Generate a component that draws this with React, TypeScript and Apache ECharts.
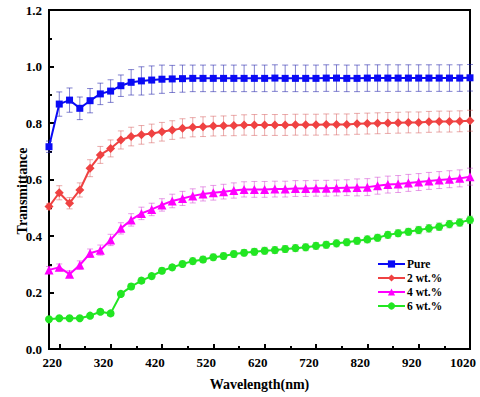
import React, { useEffect, useRef } from 'react';
import * as echarts from 'echarts';

const wavelengths = [
  200, 220, 240, 260, 280, 300, 320, 340, 360, 380,
  400, 420, 440, 460, 480, 500, 520, 540, 560, 580,
  600, 620, 640, 660, 680, 700, 720, 740, 760, 780,
  800, 820, 840, 860, 880, 900, 920, 940, 960, 980,
  1000, 1020,
];

const pure = [
  0.716, 0.867, 0.881, 0.852, 0.879, 0.903, 0.913, 0.932, 0.944, 0.949,
  0.952, 0.955, 0.956, 0.957, 0.958, 0.958, 0.958, 0.958, 0.958, 0.958,
  0.958, 0.958, 0.959, 0.958, 0.958, 0.958, 0.958, 0.959, 0.959, 0.958,
  0.958, 0.959, 0.959, 0.959, 0.959, 0.959, 0.959, 0.959, 0.959, 0.959,
  0.959, 0.960,
];
const wt2 = [
  0.504, 0.553, 0.516, 0.563, 0.640, 0.687, 0.710, 0.740, 0.752, 0.758,
  0.763, 0.769, 0.775, 0.781, 0.785, 0.787, 0.789, 0.790, 0.791, 0.793,
  0.793, 0.793, 0.793, 0.793, 0.794, 0.794, 0.794, 0.795, 0.795, 0.795,
  0.797, 0.798, 0.799, 0.800, 0.801, 0.802, 0.802, 0.804, 0.805, 0.805,
  0.806, 0.808,
];
const wt4 = [
  0.280, 0.289, 0.265, 0.297, 0.339, 0.350, 0.386, 0.427, 0.457, 0.480,
  0.494, 0.510, 0.524, 0.533, 0.542, 0.549, 0.553, 0.557, 0.561, 0.565,
  0.565, 0.565, 0.566, 0.566, 0.568, 0.568, 0.569, 0.569, 0.570, 0.571,
  0.572, 0.573, 0.578, 0.582, 0.584, 0.588, 0.591, 0.595, 0.598, 0.601,
  0.604, 0.610,
];
const wt6 = [
  0.105, 0.109, 0.109, 0.109, 0.118, 0.132, 0.126, 0.195, 0.221, 0.242,
  0.258, 0.277, 0.289, 0.301, 0.311, 0.317, 0.325, 0.329, 0.336, 0.341,
  0.344, 0.348, 0.350, 0.354, 0.357, 0.360, 0.365, 0.369, 0.374, 0.378,
  0.383, 0.388, 0.394, 0.404, 0.410, 0.415, 0.421, 0.427, 0.433, 0.442,
  0.448, 0.457,
];

const pureErr = [
  0.020, 0.043, 0.043, 0.040, 0.043, 0.038, 0.040, 0.038, 0.045, 0.050,
  0.050, 0.050, 0.048, 0.048, 0.047, 0.047, 0.047, 0.047, 0.047, 0.047,
  0.047, 0.047, 0.047, 0.047, 0.047, 0.047, 0.047, 0.047, 0.047, 0.047,
  0.047, 0.047, 0.047, 0.047, 0.047, 0.047, 0.047, 0.047, 0.047, 0.047,
  0.047, 0.047,
];
const wt2Err = [
  0.010, 0.025, 0.020, 0.025, 0.030, 0.030, 0.030, 0.032, 0.033, 0.033,
  0.033, 0.033, 0.033, 0.034, 0.034, 0.035, 0.035, 0.035, 0.036, 0.036,
  0.037, 0.037, 0.037, 0.037, 0.037, 0.037, 0.037, 0.037, 0.037, 0.037,
  0.037, 0.037, 0.037, 0.037, 0.037, 0.037, 0.037, 0.037, 0.037, 0.037,
  0.037, 0.037,
];
const wt4Err = [
  0.012, 0.012, 0.012, 0.015, 0.015, 0.018, 0.020, 0.020, 0.022, 0.022,
  0.022, 0.022, 0.024, 0.025, 0.025, 0.025, 0.026, 0.026, 0.027, 0.027,
  0.028, 0.028, 0.028, 0.028, 0.028, 0.028, 0.028, 0.028, 0.028, 0.028,
  0.030, 0.030, 0.030, 0.030, 0.030, 0.030, 0.030, 0.030, 0.030, 0.030,
  0.030, 0.030,
];
const wt6Err = [
  0.006, 0.006, 0.006, 0.006, 0.007, 0.008, 0.008, 0.009, 0.010, 0.010,
  0.010, 0.010, 0.010, 0.010, 0.011, 0.011, 0.011, 0.011, 0.011, 0.011,
  0.012, 0.012, 0.012, 0.012, 0.012, 0.012, 0.012, 0.012, 0.012, 0.012,
  0.012, 0.012, 0.012, 0.012, 0.012, 0.012, 0.013, 0.013, 0.013, 0.013,
  0.013, 0.013,
];

const seriesNames = ['Pure', '2 wt.%', '4 wt.%', '6 wt.%'];
const xLabelValues = [220, 320, 420, 520, 620, 720, 820, 920, 1020];
const xMinorTicks = [270, 370, 470, 570, 670, 770, 870, 970];

const FONT = '"Liberation Serif", "Times New Roman", serif';

export default function App() {
  const ref = useRef<HTMLDivElement>(null);

  useEffect(() => {
    if (!ref.current) return;
    const chart = echarts.init(ref.current, undefined, { renderer: 'svg' });

    const specs = [
      { name: seriesNames[0], vals: pure, err: pureErr, color: '#0a0af5', errColor: 'rgba(30,30,170,0.55)', symbol: 'rect', size: 7 },
      { name: seriesNames[1], vals: wt2, err: wt2Err, color: '#ef4242', errColor: 'rgba(215,90,90,0.5)', symbol: 'diamond', size: 9 },
      { name: seriesNames[2], vals: wt4, err: wt4Err, color: '#ff00ff', errColor: 'rgba(210,60,210,0.5)', symbol: 'triangle', size: 9 },
      { name: seriesNames[3], vals: wt6, err: wt6Err, color: '#22e622', errColor: 'rgba(40,190,40,0.5)', symbol: 'circle', size: 8 },
    ];

    const series: any[] = [];
    specs.forEach((s, i) => {
      series.push({
        type: 'custom',
        name: s.name + ' err',
        xAxisIndex: 0,
        yAxisIndex: 0,
        z: 1,
        silent: true,
        data: wavelengths.map((w, k) => [w, s.vals[k] - s.err[k], s.vals[k] + s.err[k]]),
        encode: { x: 0, y: [1, 2] },
        renderItem: (params: any, api: any) => {
          const x = api.value(0);
          const lo = api.coord([x, api.value(1)]);
          const hi = api.coord([x, api.value(2)]);
          const hw = 3;
          const st = { stroke: s.errColor, lineWidth: 1 };
          return {
            type: 'group',
            children: [
              { type: 'line', shape: { x1: lo[0], y1: lo[1], x2: hi[0], y2: hi[1] }, style: st },
              { type: 'line', shape: { x1: lo[0] - hw, y1: lo[1], x2: lo[0] + hw, y2: lo[1] }, style: st },
              { type: 'line', shape: { x1: hi[0] - hw, y1: hi[1], x2: hi[0] + hw, y2: hi[1] }, style: st },
            ],
          };
        },
      });
      series.push({
        type: 'line',
        name: s.name,
        xAxisIndex: 0,
        yAxisIndex: 0,
        z: 3 + i,
        data: wavelengths.map((w, k) => [w, s.vals[k]]),
        symbol: s.symbol,
        symbolSize: s.size,
        showSymbol: true,
        lineStyle: { color: s.color, width: 2 },
        itemStyle: { color: s.color },
      });
    });

    chart.setOption({
      animation: false,
      backgroundColor: '#ffffff',
      grid: {
        left: 49,
        right: 10,
        top: 10,
        bottom: 48,
        show: true,
        borderColor: '#000',
        borderWidth: 2,
        containLabel: false,
      },
      legend: {
        data: seriesNames,
        orient: 'vertical',
        left: 377,
        top: 258,
        itemWidth: 27,
        itemHeight: 9,
        itemGap: 2,
        padding: 0,
        textStyle: { fontFamily: FONT, fontWeight: 'bold', fontSize: 11.5, color: '#000', padding: [0, 0, 0, -3], lineHeight: 11.5 },
      },
      xAxis: [
        {
          type: 'value',
          position: 'bottom',
          min: 200,
          max: 1020,
          name: 'Wavelength(nm)',
          nameLocation: 'middle',
          nameGap: 28,
          nameTextStyle: { fontFamily: FONT, fontWeight: 'bold', fontSize: 14, color: '#000' },
          axisLine: { show: true, lineStyle: { color: '#000', width: 2 } },
          axisTick: { show: true, inside: true, length: 5, customValues: xLabelValues, lineStyle: { color: '#000', width: 2 } },
          axisLabel: {
            customValues: xLabelValues,
            formatter: (v: number) => String(Math.round(v)),
            fontFamily: FONT,
            fontWeight: 'bold',
            fontSize: 13,
            color: '#000',
            margin: 7,
            padding: [0, 14, 0, 0],
          },
          splitLine: { show: false },
        },
        {
          type: 'value',
          position: 'bottom',
          min: 200,
          max: 1020,
          axisLine: { show: false },
          axisTick: { show: true, inside: true, length: 3, customValues: xMinorTicks, lineStyle: { color: '#000', width: 2 } },
          axisLabel: { show: false },
          splitLine: { show: false },
        },
      ],
      yAxis: {
        type: 'value',
        min: 0,
        max: 1.2,
        interval: 0.2,
        axisLine: { show: true, lineStyle: { color: '#000', width: 2 } },
        axisTick: { show: true, inside: true, length: 5, lineStyle: { color: '#000', width: 2 } },
        minorTick: { show: true, splitNumber: 2, length: 3, lineStyle: { color: '#000', width: 2 } },
        axisLabel: {
          fontFamily: FONT,
          fontWeight: 'bold',
          fontSize: 13,
          color: '#000',
          margin: 7,
          formatter: (v: number) => v.toFixed(1),
        },
        splitLine: { show: false },
      },
      graphic: [
        {
          type: 'text',
          x: 22,
          y: 191,
          rotation: Math.PI / 2,
          style: {
            text: 'Transmittance',
            fontFamily: FONT,
            fontWeight: 'bold',
            fontSize: 14,
            fill: '#000',
            align: 'center',
            verticalAlign: 'middle',
          },
        },
      ],
      series,
    });

    return () => chart.dispose();
  }, []);

  return <div ref={ref} style={{ width: 480, height: 397, position: 'absolute', left: 0, top: 0 }} />;
}
